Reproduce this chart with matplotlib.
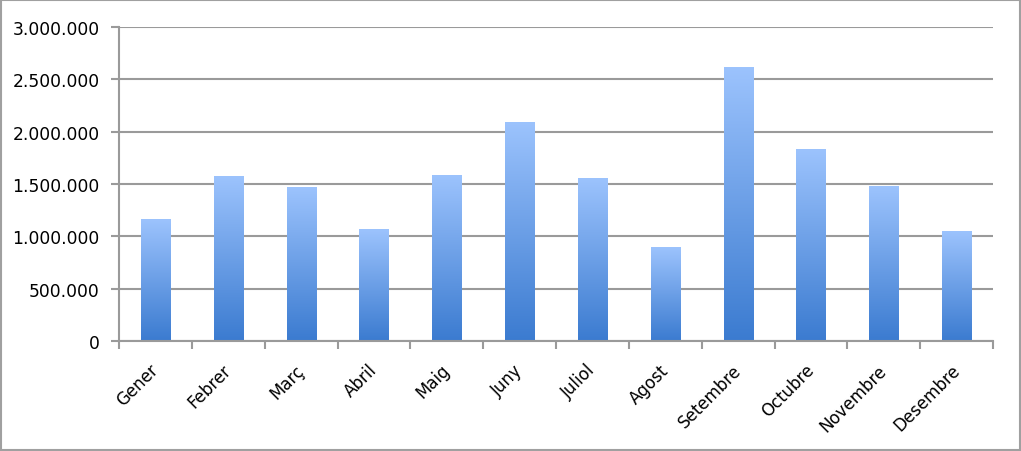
import numpy as np
import matplotlib.pyplot as plt
import matplotlib.transforms as mtrans
from matplotlib.colors import LinearSegmentedColormap
from matplotlib.ticker import FuncFormatter, FixedLocator

mesos = ["Gener", "Febrer", "Març", "Abril", "Maig", "Juny", "Juliol",
         "Agost", "Setembre", "Octubre", "Novembre", "Desembre"]
valors = [1159000, 1573000, 1468000, 1067000, 1583000, 2092000, 1554000,
          895000, 2615000, 1834000, 1478000, 1048000]
yticks = [0, 500000, 1000000, 1500000, 2000000, 2500000, 3000000]

GRID = "#9a9a9a"
cmap = LinearSegmentedColormap.from_list("bar", ["#3b7bd0", "#9cc3fd"])

fig = plt.figure(figsize=(10.21, 4.52), dpi=100)
ax = fig.add_axes([0.1166, 0.2434, 0.8560, 0.6946])

x = np.arange(len(mesos))
width = 0.4
grad = np.linspace(0, 1, 256).reshape(-1, 1)
for xi, v in zip(x, valors):
    ax.imshow(grad, extent=(xi - width / 2, xi + width / 2, 0, v),
              origin="lower", cmap=cmap, aspect="auto", zorder=3,
              interpolation="bilinear")

ax.set_xlim(-0.5, len(mesos) - 0.5)
ax.set_ylim(0, 3000000)
ax.set_yticks(yticks)
ax.yaxis.set_major_formatter(FuncFormatter(lambda v, p: f"{int(v):,}".replace(",", ".")))
ax.grid(axis="y", color=GRID, linewidth=1.5, zorder=1)

ax.set_xticks(x)
ax.set_xticklabels(mesos, rotation=45, ha="right", rotation_mode="anchor")
ax.xaxis.set_minor_locator(FixedLocator(np.arange(-0.5, len(mesos), 1)))
ax.tick_params(axis="x", which="major", length=0, pad=12, labelsize=12)
ax.tick_params(axis="x", which="minor", length=6, width=1.5, color=GRID)
ax.tick_params(axis="y", length=6, width=1.5, color=GRID, labelsize=12.3, pad=8)

shift = mtrans.ScaledTranslation(-0.06, -0.03, fig.dpi_scale_trans)
for lab in ax.get_xticklabels():
    lab.set_transform(lab.get_transform() + shift)

for s in ["top", "right"]:
    ax.spines[s].set_visible(False)
for s in ["left", "bottom"]:
    ax.spines[s].set_color(GRID)
    ax.spines[s].set_linewidth(1.5)
    ax.spines[s].set_zorder(4)

fig.patches.append(plt.Rectangle((0.001, 0.002), 0.998, 0.996, transform=fig.transFigure,
                                 fill=False, edgecolor="#a0a0a0", linewidth=1.5))

fig.savefig("out.png", dpi=100)
